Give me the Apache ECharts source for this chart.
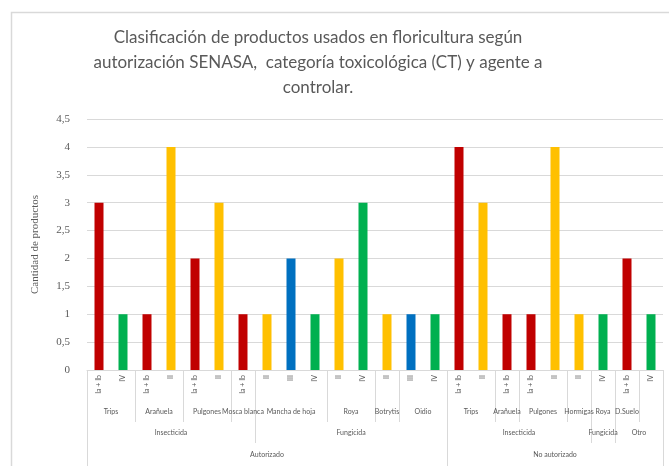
<!DOCTYPE html>
<html><head><meta charset="utf-8">
<script src="https://cdn.jsdelivr.net/npm/echarts@6/dist/echarts.min.js"></script>
<style>html,body{margin:0;padding:0;background:#fff}#c{width:669px;height:466px}</style>
</head><body><div id="c"></div>
<script>
// ---- data ----
const ctLabels = ['Ia + Ib','IV','Ia + Ib','II','Ia + Ib','II','Ia + Ib','II','III','IV','II','IV','II','III','IV','Ia + Ib','II','Ia + Ib','Ia + Ib','II','II','IV','Ia + Ib','IV'];
const values = [3,1,1,4,2,3,1,1,2,1,2,3,1,1,1,4,3,1,1,4,1,1,2,1];
const agentNames = ['Trips','Arañuela','Pulgones','Mosca blanca','Mancha de hoja','Roya','Botrytis','Oidio','Trips','Arañuela','Pulgones','Hormigas','Roya','D.Suelo','Herbicida'];
const agentSpans = [2,2,2,1,3,2,1,2,2,1,2,1,1,1,1];
const typeNames = ['Insecticida','Fungicida','Insecticida','Fungicida','Otro'];
const typeSpans = [7,8,6,1,2];
const statusNames = ['Autorizado','No autorizado'];
const statusSpans = [15,9];
const yTickLabels = ['0','0,5','1','1,5','2','2,5','3','3,5','4','4,5'];
const titleText = 'Clasificación de productos usados en floricultura según\nautorización SENASA,  categoría toxicológica (CT) y agente a\ncontrolar.';
const yTitle = 'Cantidad de productos';

// ---- styles ----
const ctColors = {'Ia + Ib':'#C00000','II':'#FFC000','III':'#0070C0','IV':'#00B050'};
const gridColor = '#d9d9d9';
const textColor = '#595959';
const smallFont = 'Lato';

const n = ctLabels.length;
const slotIdx = ctLabels.map((_, i) => String(i));
const halfIdx = Array.from({length: 2 * n + 1}, (_, i) => String(i));

function buildLevel(names, spans) {
  const labels = new Array(2 * n + 1).fill('');
  const bounds = new Array(2 * n + 1).fill(false);
  let a = 0;
  names.forEach((nm, i) => {
    const b = a + spans[i];
    labels[a + b] = nm;
    bounds[2 * a] = true;
    bounds[2 * b] = true;
    a = b;
  });
  return {labels, bounds};
}

function levelAxis(level, tickLen, margin) {
  return {
    type: 'category', gridIndex: 0, position: 'bottom', offset: 0,
    boundaryGap: false, data: halfIdx,
    axisLine: {show: false},
    axisTick: {show: true, length: tickLen, interval: (i) => level.bounds[i], lineStyle: {color: gridColor, width: 1}},
    axisLabel: {interval: (i) => level.labels[i] !== '', formatter: (v) => level.labels[Number(v)],
      margin: margin, fontSize: 7, color: textColor, fontFamily: smallFont},
    splitLine: {show: false}
  };
}

const lvl2 = buildLevel(agentNames, agentSpans);
const lvl3 = buildLevel(typeNames, typeSpans);
const lvl4 = buildLevel(statusNames, statusSpans);

const chart = echarts.init(document.getElementById('c'), null, {renderer: 'canvas'});
chart.setOption({
  backgroundColor: '#ffffff',
  animation: false,
  graphic: [
    {type: 'rect', z: -10, silent: true, shape: {x: 11.5, y: 12.5, width: 700, height: 500},
     style: {fill: '#ffffff', stroke: '#d9d9d9', lineWidth: 1.5}},
    {type: 'text', x: 318, y: 25, silent: true,
     style: {text: titleText, fill: textColor, font: '17px Lato', textAlign: 'center', lineHeight: 25}}
  ],
  grid: {left: 87, right: 6, top: 119, bottom: 96, containLabel: false},
  xAxis: [
    {
      type: 'category', gridIndex: 0, position: 'bottom', data: slotIdx, boundaryGap: true,
      axisLine: {show: true, lineStyle: {color: gridColor, width: 1}},
      axisTick: {show: false},
      axisLabel: {interval: 0, rotate: 90, margin: 5, fontSize: 7, color: textColor, fontFamily: smallFont,
        formatter: (v) => ctLabels[Number(v)]},
      splitLine: {show: false}
    },
    levelAxis(lvl2, 52, 38),
    levelAxis(lvl3, 73, 59),
    levelAxis(lvl4, 100, 81)
  ],
  yAxis: {
    type: 'value', min: 0, max: 4.5, interval: 0.5,
    axisLine: {show: false}, axisTick: {show: false},
    axisLabel: {formatter: (v) => yTickLabels[Math.round(v / 0.5)], margin: 17, fontSize: 11,
      color: textColor, fontFamily: 'Liberation Serif'},
    splitLine: {lineStyle: {color: gridColor, width: 1}},
    name: yTitle, nameLocation: 'middle', nameGap: 46,
    nameTextStyle: {fontSize: 11, color: textColor, fontFamily: 'Liberation Serif'}
  },
  series: [{
    type: 'bar', xAxisIndex: 0, barWidth: 9,
    data: values.map((v, i) => ({value: v, itemStyle: {color: ctColors[ctLabels[i]]}}))
  }]
});
</script></body></html>
